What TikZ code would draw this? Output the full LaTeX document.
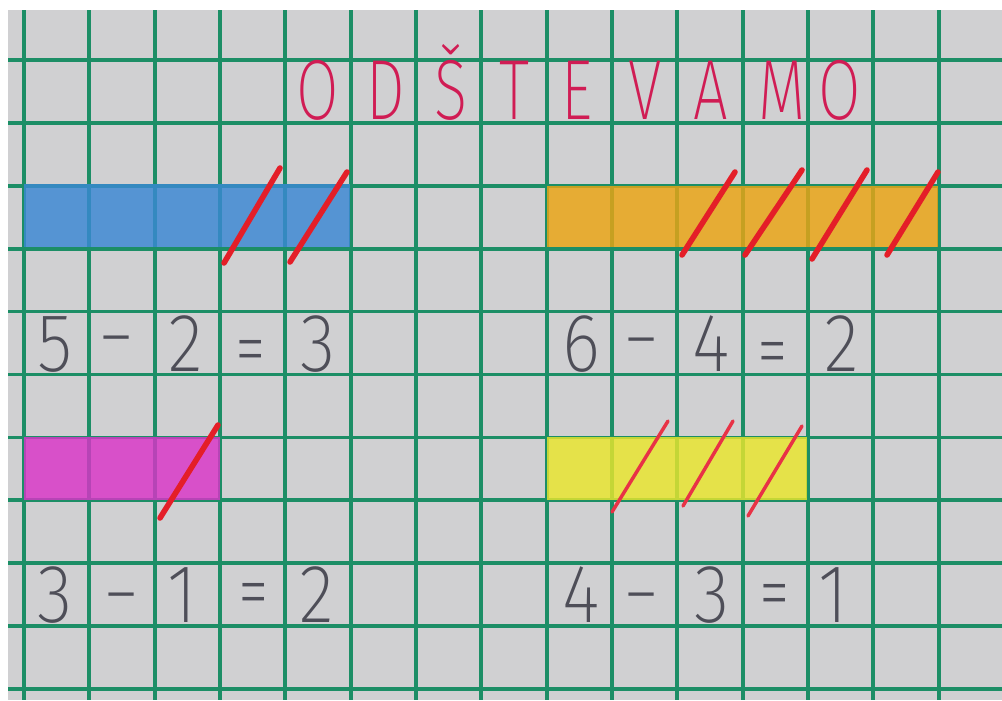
\documentclass[tikz,border=0pt]{standalone}
\usepackage{fontspec}
\usepackage{graphicx}
\IfFontExistsTF{FiraSans-ExtraLight.otf}{\newfontfamily\hand{FiraSans-ExtraLight.otf}}{%
 \IfFontExistsTF{Fira Sans ExtraLight}{\newfontfamily\hand{Fira Sans ExtraLight}}{%
  \IfFontExistsTF{Fira Sans Light}{\newfontfamily\hand{Fira Sans Light}}{\newfontfamily\hand{Fira Sans}}}}
\definecolor{paper}{RGB}{208,208,210}
\definecolor{gridgreen}{RGB}{28,142,102}
\definecolor{crayblue}{RGB}{58,136,212}
\definecolor{crayorange}{RGB}{236,165,18}
\definecolor{craymagenta}{RGB}{218,52,200}
\definecolor{crayyellow}{RGB}{234,230,44}
\definecolor{strikered}{RGB}{228,30,40}
\definecolor{strikepink}{RGB}{232,50,70}
\definecolor{titlered}{RGB}{208,28,84}
\definecolor{pencil}{RGB}{78,78,88}
\newcommand\narrowtext[2]{\scalebox{#1}[1]{#2}}
\begin{document}
\begin{tikzpicture}[x=0.75pt,y=-0.75pt,
  gridline/.style={draw=gridgreen,line width=2.8pt},
  bar/.style={fill opacity=0.82},
  strike/.style={draw=strikered,line width=4.2pt,line cap=round},
  thinstrike/.style={draw=strikepink,line width=2.6pt,line cap=round},
  title/.style={text=titlered,inner sep=0pt,anchor=base,font=\hand\fontsize{64}{64}\selectfont},
  digit/.style={text=pencil,inner sep=0pt,anchor=base,font=\hand\fontsize{62}{62}\selectfont},
  sign/.style={text=pencil,inner sep=0pt,anchor=center,font=\hand\fontsize{62}{62}\selectfont}]
\useasboundingbox (0,0) rectangle (1002,700);
\fill[white] (0,0) rectangle (1002,700);
\fill[paper] (8,10) rectangle (1002,700);
% grid
\foreach \i in {0,...,14} \draw[gridline] ({24+65.33*\i},10) -- ({24+65.33*\i},700);
\foreach \j in {0,...,10} \draw[gridline] (8,{60+62.9*\j}) -- (1002,{60+62.9*\j});
% title
\foreach \ch/\x [count=\k] in {O/318,D/386,\v{S}/451,T/514,E/577,V/645,A/711,M/782,O/840}
  \node[title] (t\k) at (\x,119) {\narrowtext{0.72}{\ch}};
% bars
\fill[bar,crayblue] (24,184) rectangle (350,247);
\fill[bar,crayorange] (547,186) rectangle (938,247);
\fill[bar,craymagenta] (24,437) rectangle (220,500);
\fill[bar,crayyellow] (547,437) rectangle (807,500);
% strikes
\draw[strike] (224,263) -- (280,168);
\draw[strike] (290,262) -- (347,172);
\draw[strike] (682,255) -- (735,172);
\draw[strike] (745,255) -- (802,170);
\draw[strike] (812,259) -- (867,170);
\draw[strike] (887,255) -- (938,172);
\draw[strike] (160,518) -- (218,425);
\draw[thinstrike] (612,512) -- (668,421);
\draw[thinstrike] (683,506) -- (733,421);
\draw[thinstrike] (748,516) -- (802,426);
% equations
\node[digit] (a1) at (55,371) {\narrowtext{0.88}{5}};
\node[sign]  (a2) at (117,350) {\narrowtext{0.7}{–}};
\node[digit] (a3) at (186,371) {\narrowtext{0.88}{2}};
\node[sign]  (a4) at (251,358) {\narrowtext{0.75}{=}};
\node[digit] (a5) at (318,371) {\narrowtext{0.88}{3}};
\node[digit] (b1) at (581,371) {\narrowtext{0.88}{6}};
\node[sign]  (b2) at (642,352) {\narrowtext{0.7}{–}};
\node[digit] (b3) at (711,371) {\narrowtext{0.88}{4}};
\node[sign]  (b4) at (773,360) {\narrowtext{0.75}{=}};
\node[digit] (b5) at (842,371) {\narrowtext{0.88}{2}};
\node[digit] (c1) at (55,622) {\narrowtext{0.88}{3}};
\node[sign]  (c2) at (122,607) {\narrowtext{0.7}{–}};
\node[digit] (c3) at (182,622) {\narrowtext{0.88}{1}};
\node[sign]  (c4) at (254,601) {\narrowtext{0.75}{=}};
\node[digit] (c5) at (317,622) {\narrowtext{0.88}{2}};
\node[digit] (d1) at (581,622) {\narrowtext{0.88}{4}};
\node[sign]  (d2) at (642,607) {\narrowtext{0.7}{–}};
\node[digit] (d3) at (712,622) {\narrowtext{0.88}{3}};
\node[sign]  (d4) at (775,602) {\narrowtext{0.75}{=}};
\node[digit] (d5) at (833,622) {\narrowtext{0.88}{1}};
\end{tikzpicture}
\end{document}
